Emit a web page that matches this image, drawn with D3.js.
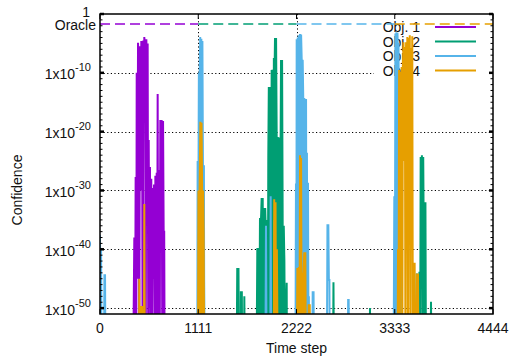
<!DOCTYPE html>
<html>
<head>
<meta charset="utf-8">
<script src="https://cdn.jsdelivr.net/npm/d3@7"></script>
<style>
  body { margin: 0; background: #fff; }
  svg { display: block; font-family: "Liberation Sans", Arial, sans-serif; }
</style>
</head>
<body>
<div id="app"></div>
<script>
const WIDTH = 512;
const HEIGHT = 356;
const margin = { top: 14, right: 19, bottom: 42, left: 100 };

// series: [time step, log10(confidence)]; -60 means "far below the axis"
const obj1 = [
  [0, -60], [375, -60], [388, -38], [396, -60], [403, -27.7], [410, -60], [415, -10], [421, -45],
  [430, -4.9], [437, -8], [444, -60], [452, -5.5], [460, -30], [467, -4.6], [475, -7], [482, -60],
  [490, -4.5], [498, -12], [501, -3.9], [509, -6], [517, -60], [524, -4.3], [531, -10], [539, -5],
  [546, -60], [551, -21.4], [558, -50], [565, -26], [573, -60], [580, -28], [588, -60], [596, -29.6],
  [603, -45], [611, -29], [619, -60], [626, -27.5], [633, -60], [641, -27], [648, -40], [652, -13.6],
  [659, -60], [667, -26.5], [675, -60], [682, -18], [690, -36], [697, -18], [705, -60], [713, -18.2],
  [720, -37], [726, -37], [731, -60], [4444, -60]
];

const obj2 = [
  [0, -60], [1170, -60], [1176, -44.7], [1180, -60],
  [1545, -60], [1552, -43.2], [1560, -60], [1566, -43.2], [1572, -60],
  [1590, -60], [1593, -47.3], [1604, -47.3], [1608, -60], [1628, -60], [1632, -48], [1638, -60],
  [1770, -60], [1779, -39.8], [1785, -60], [1792, -39.8], [1800, -60], [1809, -34.7], [1815, -60],
  [1821, -34.7], [1828, -31.3], [1834, -60], [1840, -31.3], [1847, -60], [1855, -33], [1861, -60],
  [1868, -33], [1877, -38], [1883, -60], [1890, -35], [1897, -60], [1903, -24.3], [1909, -12.4],
  [1915, -60], [1922, -12.4], [1928, -20], [1935, -60], [1941, -9.5], [1947, -15], [1953, -9.5],
  [1960, -60], [1966, -7.5], [1972, -12], [1979, -4.1], [1985, -60], [1991, -4.1], [1998, -20.9],
  [2004, -60], [2010, -20.9], [2016, -23], [2022, -60], [2030, -21], [2036, -60], [2042, -23],
  [2047, -7.8], [2053, -60], [2059, -7.8], [2065, -33], [2071, -60], [2078, -36], [2085, -42],
  [2092, -60], [2111, -45.7], [2114, -60],
  [2635, -60], [2640, -45.6], [2646, -60], [3048, -60], [3053, -50], [3058, -60],
  [3575, -60], [3581, -44.1], [3590, -60], [3600, -45.7], [3606, -60], [3612, -43.8], [3620, -60],
  [3626, -24.3], [3634, -30], [3640, -24], [3648, -60], [3655, -24.3], [3662, -40], [3668, -32],
  [3675, -60], [3680, -32], [3686, -60], [3738, -60], [3743, -48.9], [3748, -60], [4444, -60]
];

const obj3 = [
  [0, -37.6], [6, -60], [12, -39.8], [18, -60], [45, -60], [50, -44.4], [57, -44.4], [62, -60],
  [1100, -60], [1104, -25], [1108, -60], [1112, -35], [1118, -10], [1124, -60], [1128, -10],
  [1133, -3.9], [1140, -30], [1146, -4.2], [1152, -60], [1158, -4.6], [1164, -25.7], [1170, -60],
  [1175, -25.7], [1180, -60],
  [1870, -60], [1877, -36], [1884, -60], [1925, -60], [1930, -31], [1936, -60], [1965, -60],
  [1971, -35], [1977, -60],
  [2210, -60], [2216, -28.8], [2220, -60], [2224, -4.3], [2230, -20], [2236, -4.0], [2242, -60],
  [2248, -3.6], [2255, -10], [2262, -3.4], [2268, -60], [2274, -3.5], [2281, -7.8], [2287, -60],
  [2292, -7.8], [2298, -14], [2304, -60], [2310, -14.3], [2316, -60], [2322, -14.6], [2330, -14.6],
  [2336, -60], [2340, -23.6], [2346, -60], [2352, -28.7], [2358, -60], [2362, -48], [2366, -60],
  [2400, -60], [2405, -47.3], [2415, -47.3], [2420, -60],
  [2565, -60], [2572, -35.9], [2582, -35.9], [2588, -45.2], [2594, -45.2], [2598, -60],
  [2802, -60], [2806, -48.6], [2812, -48.6], [2816, -60],
  [3320, -60], [3328, -31], [3334, -60], [3340, -3.3], [3346, -20], [3352, -3.1], [3358, -60],
  [3364, -3.2], [3370, -8], [3376, -4.9], [3382, -60], [3388, -10], [3394, -20], [3400, -12],
  [3406, -60], [3412, -40], [3418, -60], [4444, -60]
];

const obj4 = [
  [0, -60], [440, -60], [444, -45], [450, -60], [462, -49.8], [475, -49.8], [482, -60], [497, -60],
  [501, -32.3], [507, -60],
  [1108, -60], [1113, -30], [1120, -60], [1126, -30], [1135, -18.3], [1142, -60], [1148, -18.5],
  [1155, -30], [1160, -60], [1166, -30], [1172, -37], [1178, -60],
  [1965, -60], [1970, -31.5], [1978, -60], [1985, -32], [1992, -60], [2000, -40], [2010, -60],
  [2225, -60], [2232, -43.2], [2240, -60], [2248, -43], [2255, -60], [2262, -24], [2268, -60],
  [2274, -24.5], [2281, -60], [2288, -44], [2295, -60], [2302, -44], [2310, -40.5], [2316, -60],
  [2322, -40.5], [2328, -60], [2356, -60], [2360, -49.5], [2372, -49.5], [2376, -60],
  [3365, -60], [3370, -40], [3376, -60], [3382, -9.5], [3390, -60], [3398, -9.8], [3405, -30],
  [3411, -9], [3418, -60], [3425, -9], [3432, -4.8], [3440, -25], [3447, -5.6], [3454, -60],
  [3461, -4.8], [3468, -30], [3475, -3.9], [3482, -60], [3489, -4.1], [3496, -15], [3503, -3.6],
  [3510, -60], [3517, -5.8], [3524, -20], [3531, -3.8], [3538, -60], [3545, -42.3], [3552, -60],
  [3558, -42.3], [3565, -60], [3580, -60], [3585, -44.3], [3596, -44.3], [3600, -60], [4444, -60]
];

const seriesNames = ['Obj. 1', 'Obj. 2', 'Obj. 3', 'Obj. 4'];
const seriesColors = ['#9400d3', '#009e73', '#56b4e9', '#e69f00'];

// oracle: each objective is the target for one quarter of the run
const oracleStart = [0, 1111, 2222, 3333];
const oracleEnd = [1111, 2222, 3333, 4444];
const oracleExp = -1.7;

const xTicks = [0, 1111, 2222, 3333, 4444];
const yTickExps = [-10, -20, -30, -40, -50];

const x0 = margin.left, x1 = WIDTH - margin.right;
const y0 = HEIGHT - margin.bottom, y1 = margin.top;

const x = d3.scaleLinear().domain([0, 4444]).range([x0, x1]);
const y = d3.scaleLog().domain([1e-51, 1]).range([y0, y1]);

const svg = d3.select('#app').append('svg')
  .attr('width', WIDTH)
  .attr('height', HEIGHT);

svg.append('defs').append('clipPath').attr('id', 'plot-clip')
  .append('rect')
  .attr('x', x0).attr('y', y1)
  .attr('width', x1 - x0).attr('height', y0 - y1);

// grid
const grid = svg.append('g').attr('id', 'grid')
  .attr('stroke', '#000')
  .attr('stroke-width', 1)
  .attr('stroke-dasharray', '1.2,2.4');

grid.selectAll('line.h')
  .data(yTickExps)
  .join('line')
  .attr('class', 'h')
  .attr('x1', x0).attr('x2', x1)
  .attr('y1', d => Math.round(y(10 ** d)) + 0.5)
  .attr('y2', d => Math.round(y(10 ** d)) + 0.5);

grid.selectAll('line.v')
  .data(xTicks.slice(1, -1))
  .join('line')
  .attr('class', 'v')
  .attr('y1', y1).attr('y2', y0)
  .attr('x1', d => Math.round(x(d)) + 0.5)
  .attr('x2', d => Math.round(x(d)) + 0.5);

// key (opaque box hides the grid, data still goes over it)
const key = svg.append('g').attr('id', 'key');
key.append('rect')
  .attr('x', 374).attr('y', y1 + 1)
  .attr('width', x1 - 374 - 2).attr('height', 64)
  .attr('fill', '#fff');

const keyRows = key.selectAll('g.row')
  .data(seriesNames)
  .join('g')
  .attr('class', 'row')
  .attr('transform', (d, i) => `translate(0,${27 + i * 14.5})`);

keyRows.append('text')
  .attr('x', 420).attr('y', 5)
  .attr('text-anchor', 'end')
  .attr('font-size', 14)
  .attr('fill', '#111')
  .text(d => d);

keyRows.append('line')
  .attr('x1', 435).attr('x2', 476)
  .attr('y1', 0).attr('y2', 0)
  .attr('stroke', (d, i) => seriesColors[i])
  .attr('stroke-width', 2);

// data
const plot = svg.append('g').attr('clip-path', 'url(#plot-clip)');
const line = d3.line()
  .x(d => x(d[0]))
  .y(d => y(10 ** d[1]));

plot.selectAll('path.series')
  .data([obj1, obj2, obj3, obj4])
  .join('path')
  .attr('class', 'series')
  .attr('fill', 'none')
  .attr('stroke', (d, i) => seriesColors[i])
  .attr('stroke-width', 2)
  .attr('stroke-linejoin', 'miter')
  .attr('d', line);

plot.selectAll('line.oracle')
  .data(oracleStart)
  .join('line')
  .attr('class', 'oracle')
  .attr('x1', d => x(d))
  .attr('x2', (d, i) => x(oracleEnd[i]))
  .attr('y1', y(10 ** oracleExp))
  .attr('y2', y(10 ** oracleExp))
  .attr('stroke', (d, i) => seriesColors[i])
  .attr('stroke-opacity', 0.75)
  .attr('stroke-width', 2)
  .attr('stroke-dasharray', '10,5');

// ticks
const ticks = svg.append('g').attr('stroke', '#000');
const minorExps = d3.range(-50, 0);
[x0, x1].forEach((ex, side) => {
  const dir = side === 0 ? 1 : -1;
  ticks.selectAll(null)
    .data(minorExps)
    .join('line')
    .attr('x1', ex).attr('x2', ex + dir * 2.5)
    .attr('y1', d => y(10 ** d)).attr('y2', d => y(10 ** d))
    .attr('stroke-width', 1);
  ticks.selectAll(null)
    .data([0, ...yTickExps])
    .join('line')
    .attr('x1', ex).attr('x2', ex + dir * 4)
    .attr('y1', d => y(10 ** d)).attr('y2', d => y(10 ** d))
    .attr('stroke-width', 2.5);
});
[y0, y1].forEach((ey, side) => {
  const dir = side === 0 ? -1 : 1;
  ticks.selectAll(null)
    .data(xTicks)
    .join('line')
    .attr('x1', d => x(d)).attr('x2', d => x(d))
    .attr('y1', ey).attr('y2', ey + dir * 5)
    .attr('stroke-width', 1);
});

// border
svg.append('rect')
  .attr('x', x0).attr('y', y1)
  .attr('width', x1 - x0).attr('height', y0 - y1)
  .attr('fill', 'none')
  .attr('stroke', '#000')
  .attr('stroke-width', 1.5);

// y labels
const yLab = svg.append('g').attr('font-size', 14).attr('fill', '#111');
yLab.append('text')
  .attr('x', 90).attr('y', y(1) + 2.5)
  .attr('text-anchor', 'end')
  .text('1');
yLab.append('text')
  .attr('x', 96).attr('y', y(10 ** oracleExp) + 6)
  .attr('text-anchor', 'end')
  .text('Oracle');

const powLabels = yLab.selectAll('text.pow')
  .data(yTickExps)
  .join('text')
  .attr('class', 'pow')
  .attr('x', 91)
  .attr('y', d => y(10 ** d) + 6.5)
  .attr('text-anchor', 'end');
powLabels.append('tspan').text('1x10');
powLabels.append('tspan')
  .attr('font-size', 11)
  .attr('dy', -8)
  .text(d => d);

// x labels
svg.append('g').attr('font-size', 14).attr('fill', '#111')
  .selectAll('text')
  .data(xTicks)
  .join('text')
  .attr('x', d => x(d))
  .attr('y', 333)
  .attr('text-anchor', 'middle')
  .text(d => d);

svg.append('text')
  .attr('x', (x0 + x1) / 2)
  .attr('y', 353)
  .attr('text-anchor', 'middle')
  .attr('font-size', 14)
  .attr('fill', '#111')
  .text('Time step');

svg.append('text')
  .attr('transform', 'translate(22,190) rotate(-90)')
  .attr('text-anchor', 'middle')
  .attr('font-size', 14)
  .attr('fill', '#111')
  .text('Confidence');
</script>
</body>
</html>
